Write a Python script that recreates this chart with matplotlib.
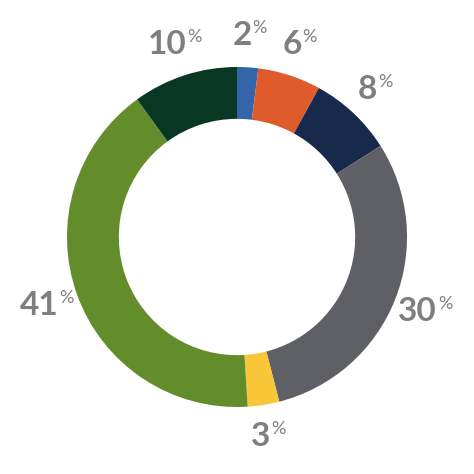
import matplotlib.pyplot as plt
import numpy as np

# shares, clockwise from 12 o'clock
values = [2, 6, 8, 30, 3, 41, 10]
labels = ['2', '6', '8', '30', '3', '41', '10']
colors = ['#3565a9', '#e05b2c', '#172a4b', '#5f6065', '#f8c638', '#638c2a', '#083724']

fig = plt.figure(figsize=(4.74, 4.74), dpi=100)
ax = fig.add_axes([0, 0, 1, 1])

wedges, _ = ax.pie(values, colors=colors, startangle=90, counterclock=False,
                   radius=1.0, wedgeprops=dict(width=0.305, linewidth=0))
ax.set_xlim(-1.394, 1.394)
ax.set_ylim(-1.394, 1.394)
ax.set_aspect('equal')
ax.axis('off')

txt_color = '#7f7f81'
font = 'Lato'
num_texts = []
for w, lab in zip(wedges, labels):
    ang = np.deg2rad((w.theta1 + w.theta2) / 2)
    r = 1.19
    x, y = r * np.cos(ang), r * np.sin(ang)
    t = ax.text(x - 0.045, y, lab, ha='center', va='center', fontsize=24,
                fontweight='bold', color=txt_color, family=font)
    num_texts.append(t)

fig.canvas.draw()
renderer = fig.canvas.get_renderer()
inv = ax.transData.inverted()
for t in num_texts:
    bb = t.get_window_extent(renderer)
    x1, y1 = inv.transform((bb.x1 + 1, bb.y1 + 1))
    ax.text(x1, y1, '%', ha='left', va='top', fontsize=13,
            fontweight='normal', color=txt_color, family=font)

fig.savefig('out.png', dpi=100)
